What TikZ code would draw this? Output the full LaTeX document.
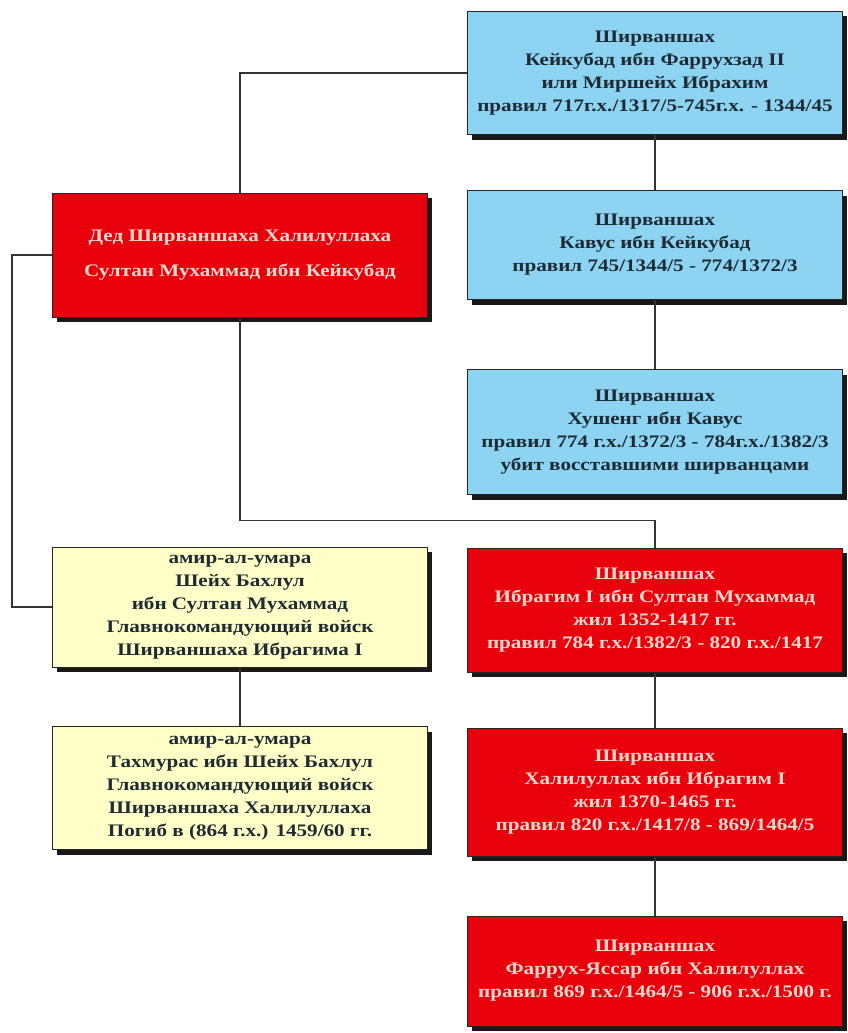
\documentclass[tikz,border=0pt]{standalone}
\usepackage{fontspec}
\usepackage{xcolor}
\usepackage{tikz}
\usetikzlibrary{calc, shadows}

\newfontfamily\chartfont{Liberation Serif}[FakeStretch=1.2]

\definecolor{shahblue}{HTML}{8DD3F2}
\definecolor{shahred}{HTML}{E8000C}
\definecolor{emiryellow}{HTML}{FFFFC8}
\definecolor{paletext}{HTML}{F6DACB}
\definecolor{darktext}{HTML}{1E2B33}

\begin{document}
\begin{tikzpicture}[x = 1pt, y = -1pt,
		box/.style = {draw = black!85, line width = 1pt, align = center, inner sep = 1pt,
			minimum width = 375pt,
			font = \chartfont\bfseries\fontsize{17.6}{23}\selectfont,
			drop shadow = {shadow xshift = 4pt, shadow yshift = -5pt, fill = black, opacity = 0.9}},
		shah/.style = {box, fill = shahblue, text = darktext},
		ruler/.style = {box, fill = shahred, text = paletext},
		emir/.style = {box, fill = emiryellow, text = darktext},
		link/.style = {draw = black!80, line width = 1.3pt}]

			\useasboundingbox (0,0) rectangle (848,1033);

			% right column
			\node [shah, minimum height = 123pt] (kaykubad) at (655,73)
				{Ширваншах\\ Кейкубад ибн Фаррухзад II\\ или Миршейх Ибрахим\\ правил 717г.х./1317/5-745г.х. - 1344/45};
			\node [shah, minimum height = 109pt] (kavus) at (655,245)
				{Ширваншах\\ Кавус ибн Кейкубад\\ правил 745/1344/5 - 774/1372/3};
			\node [shah, minimum height = 125pt] (khushang) at (655,432)
				{Ширваншах\\ Хушенг ибн Кавус\\ правил 774 г.х./1372/3 - 784г.х./1382/3\\ убит восставшими ширванцами};
			\node [ruler, minimum height = 124pt] (ibrahim) at (655,610)
				{Ширваншах\\ Ибрагим I ибн Султан Мухаммад\\ жил 1352-1417 гг.\\ правил 784 г.х./1382/3 - 820 г.х./1417};
			\node [ruler, minimum height = 128pt] (khalil) at (655,792)
				{Ширваншах\\ Халилуллах ибн Ибрагим I\\ жил 1370-1465 гг.\\ правил 820 г.х./1417/8 - 869/1464/5};
			\node [ruler, minimum height = 110pt] (farrukh) at (655,971)
				{Ширваншах\\ Фаррух-Яссар ибн Халилуллах\\ правил 869 г.х./1464/5 - 906 г.х./1500 г.};

			% left column
			\node [ruler, minimum height = 124pt] (ded) at (240,255)
				{Дед Ширваншаха Халилуллаха\\[12pt] Султан Мухаммад ибн Кейкубад};
			\node [emir, minimum height = 120pt] (bahlul) at (240,607)
				{амир-ал-умара\\ Шейх Бахлул\\ ибн Султан Мухаммад\\ Главнокомандующий войск\\ Ширваншаха Ибрагима I};
			\node [emir, minimum height = 123pt] (tahmuras) at (240,788)
				{амир-ал-умара\\ Тахмурас ибн Шейх Бахлул\\ Главнокомандующий войск\\ Ширваншаха Халилуллаха\\ Погиб в (864 г.х.) 1459/60 гг.};

			% lines between the boxes
			\foreach \a/\b in {kaykubad/kavus, kavus/khushang, ibrahim/khalil, khalil/farrukh, bahlul/tahmuras}
			{
				\draw [link] (\a.south) -- (\b.north);
			}

			\draw [link] (ded.north) |- (kaykubad.west);
			\draw [link] (ded.south) -- ++(0,203) -| (ibrahim.north);
			\draw [link] (ded.west) -- ++(-40,0) |- (bahlul.west);
		\end{tikzpicture}
\end{document}
